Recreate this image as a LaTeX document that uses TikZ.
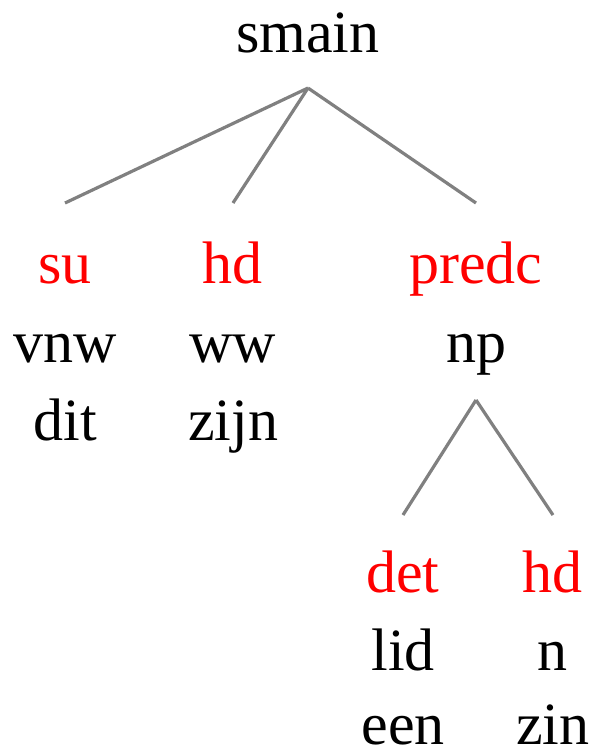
\documentclass[tikz,border=0pt]{standalone}
\usepackage{fontspec}
\setmainfont{Liberation Serif}
\usepackage{tikz}
\usetikzlibrary{positioning}
\usepackage{xcolor}

\begin{document}
\begin{tikzpicture}[x=0.5pt,y=-0.5pt,
  lbl/.style={anchor=base,inner sep=0pt,font=\fontsize{30}{36}\selectfont},
  rel/.style={lbl,text=red},
  edge/.style={draw=gray,line width=1.6pt}]
\useasboundingbox (0,0) rectangle (592,752);

\node[lbl] (smain) at (308,52) {smain};

\node[rel] (su) at (65,283) {su};
\node[lbl] (vnw) at (65,362) {vnw};
\node[lbl] (dit) at (65,440) {dit};

\node[rel] (hd1) at (233,283) {hd};
\node[lbl] (ww) at (233,362) {ww};
\node[lbl] (zijn) at (233,440) {zijn};

\node[rel] (predc) at (476,283) {predc};
\node[lbl] (np) at (476,362) {np};

\node[rel] (det) at (403,592) {det};
\node[lbl] (lid) at (403,670) {lid};
\node[lbl] (een) at (403,744) {een};

\node[rel] (hd2) at (553,592) {hd};
\node[lbl] (n) at (553,670) {n};
\node[lbl] (zin) at (553,744) {zin};

\coordinate (top) at (308,88);
\coordinate (sutop) at (65,203);
\coordinate (hdtop) at (233,203);
\coordinate (predctop) at (476,203);
\draw[edge] (top)--(sutop);
\draw[edge] (top)--(hdtop);
\draw[edge] (top)--(predctop);

\coordinate (nptop) at (476,400);
\coordinate (dettop) at (403,515);
\coordinate (hdtwotop) at (553,515);
\draw[edge] (nptop)--(dettop);
\draw[edge] (nptop)--(hdtwotop);

\end{tikzpicture}
\end{document}
